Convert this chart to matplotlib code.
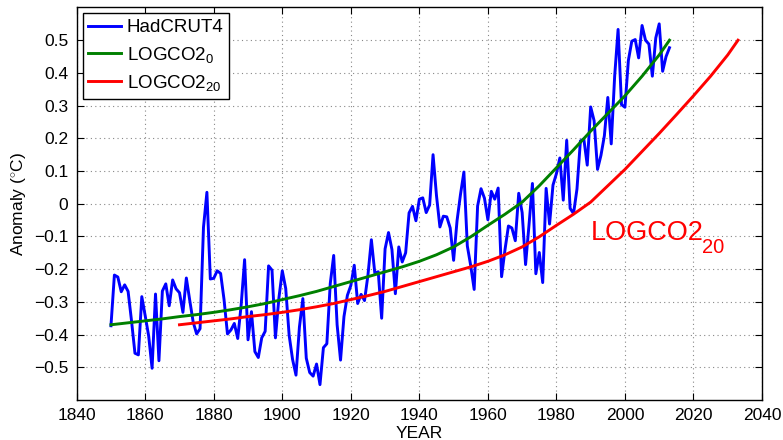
import numpy as np
import matplotlib
matplotlib.use("Agg")
import matplotlib.pyplot as plt
from matplotlib.ticker import FuncFormatter

plt.rcParams['font.family'] = ['Liberation Sans', 'DejaVu Sans']
plt.rcParams['mathtext.fontset'] = 'custom'
plt.rcParams['mathtext.rm'] = 'Liberation Sans'
plt.rcParams['mathtext.it'] = 'Liberation Sans'
plt.rcParams['mathtext.bf'] = 'Liberation Sans'

# HadCRUT4 annual anomalies 1850-2013
had_years = list(range(1850, 2014))
had_vals = [
    -0.373, -0.218, -0.224, -0.269, -0.248, -0.268, -0.358, -0.457, -0.462, -0.284,
    -0.343, -0.404, -0.503, -0.276, -0.480, -0.267, -0.245, -0.312, -0.233, -0.260,
    -0.272, -0.332, -0.227, -0.296, -0.362, -0.398, -0.382, -0.072, 0.035, -0.230,
    -0.228, -0.205, -0.213, -0.293, -0.398, -0.386, -0.366, -0.412, -0.309, -0.171,
    -0.416, -0.330, -0.452, -0.470, -0.410, -0.390, -0.190, -0.203, -0.410, -0.289,
    -0.205, -0.259, -0.402, -0.476, -0.524, -0.377, -0.290, -0.472, -0.516, -0.527,
    -0.490, -0.553, -0.440, -0.428, -0.244, -0.158, -0.370, -0.478, -0.345, -0.280,
    -0.250, -0.188, -0.305, -0.277, -0.296, -0.218, -0.110, -0.212, -0.208, -0.350,
    -0.138, -0.088, -0.140, -0.275, -0.132, -0.178, -0.150, -0.028, -0.008, -0.052,
    0.014, 0.018, -0.027, -0.004, 0.150, 0.025, -0.071, -0.038, -0.040, -0.074,
    -0.173, -0.052, 0.028, 0.097, -0.129, -0.190, -0.262, -0.007, 0.046, 0.017,
    -0.049, 0.038, 0.014, 0.048, -0.223, -0.140, -0.068, -0.074, -0.113, 0.032,
    -0.027, -0.186, -0.065, 0.062, -0.214, -0.149, -0.241, 0.047, -0.062, 0.057,
    0.092, 0.140, 0.011, 0.194, -0.014, -0.030, 0.045, 0.192, 0.198, 0.118,
    0.296, 0.254, 0.105, 0.148, 0.208, 0.325, 0.183, 0.390, 0.533, 0.303,
    0.295, 0.438, 0.497, 0.502, 0.446, 0.545, 0.500, 0.488, 0.390, 0.507,
    0.550, 0.405, 0.450, 0.477,
]

# LOGCO2_0 curve
g_years = [1850, 1855, 1860, 1865, 1870, 1875, 1880, 1885, 1890, 1895, 1900, 1905,
           1910, 1915, 1920, 1925, 1930, 1935, 1940, 1945, 1950, 1955, 1960, 1965,
           1970, 1975, 1980, 1985, 1990, 1995, 2000, 2005, 2010, 2013]
g_vals = [-0.370, -0.364, -0.358, -0.352, -0.345, -0.339, -0.332, -0.324, -0.315,
          -0.305, -0.293, -0.281, -0.268, -0.253, -0.238, -0.223, -0.208, -0.193,
          -0.176, -0.156, -0.132, -0.101, -0.066, -0.032, 0.005, 0.055, 0.110,
          0.165, 0.222, 0.276, 0.330, 0.390, 0.455, 0.500]

# LOGCO2_20 curve
r_years = [1870, 1875, 1880, 1885, 1890, 1895, 1900, 1905, 1910, 1915, 1920, 1925,
           1930, 1935, 1940, 1945, 1950, 1955, 1960, 1965, 1970, 1975, 1980, 1985,
           1990, 1995, 2000, 2005, 2010, 2015, 2020, 2025, 2030, 2033]
r_vals = [-0.370, -0.364, -0.358, -0.352, -0.345, -0.339, -0.332, -0.324, -0.315,
          -0.305, -0.293, -0.281, -0.268, -0.253, -0.238, -0.223, -0.208, -0.193,
          -0.176, -0.156, -0.132, -0.101, -0.066, -0.032, 0.005, 0.055, 0.105,
          0.160, 0.215, 0.272, 0.330, 0.390, 0.455, 0.500]

x_ticks = list(range(1840, 2041, 20))
y_ticks = [-0.5, -0.4, -0.3, -0.2, -0.1, 0, 0.1, 0.2, 0.3, 0.4, 0.5]

fig = plt.figure(figsize=(7.83, 4.40), dpi=100)
ax = fig.add_axes([76.7/783, 40/440, (762-76.7)/783, (400-7.5)/440])

ax.plot(had_years, had_vals, color=(0, 0, 1), lw=2.1, label='HadCRUT4', zorder=3)
ax.plot(g_years, g_vals, color=(0, 0.5, 0), lw=2.1, label='LOGCO2$_{0}$', zorder=4)
ax.plot(r_years, r_vals, color=(1, 0, 0), lw=2.1, label='LOGCO2$_{20}$', zorder=4)

ax.set_xlim(1840, 2040)
ax.set_ylim(-0.6, 0.6)
ax.set_xticks(x_ticks)
ax.set_yticks(y_ticks)
ax.yaxis.set_major_formatter(FuncFormatter(lambda v, p: ('%g' % round(v, 2)).replace('-', '\u2212')))
ax.tick_params(direction='in', top=True, right=True, length=5, width=0.8,
               labelsize=12.5, pad=6)
ax.grid(True, linestyle=(0, (1, 3)), color='#888888', linewidth=0.8)
for s in ax.spines.values():
    s.set_linewidth(1.0)
    s.set_color('black')

ax.set_xlabel('YEAR', fontsize=12.5, labelpad=2)
ax.set_ylabel('Anomaly ($^{\\circ}$C)', fontsize=12.5, labelpad=4)

leg = ax.legend(loc='upper left', bbox_to_anchor=(0.0088, 0.985), borderaxespad=0,
                fontsize=13.5, frameon=True, fancybox=False, handlelength=1.75,
                handletextpad=0.3, labelspacing=0.45, borderpad=0.3)
leg.get_frame().set_edgecolor('black')
leg.get_frame().set_linewidth(1.0)
leg.get_frame().set_alpha(1)

ax.text(1990, -0.11, 'LOGCO2', color='red', fontsize=19.5, va='baseline', ha='left')
ax.text(2022.6, -0.152, '20', color='red', fontsize=14.5, va='baseline', ha='left')

fig.savefig('out.png', dpi=100)
